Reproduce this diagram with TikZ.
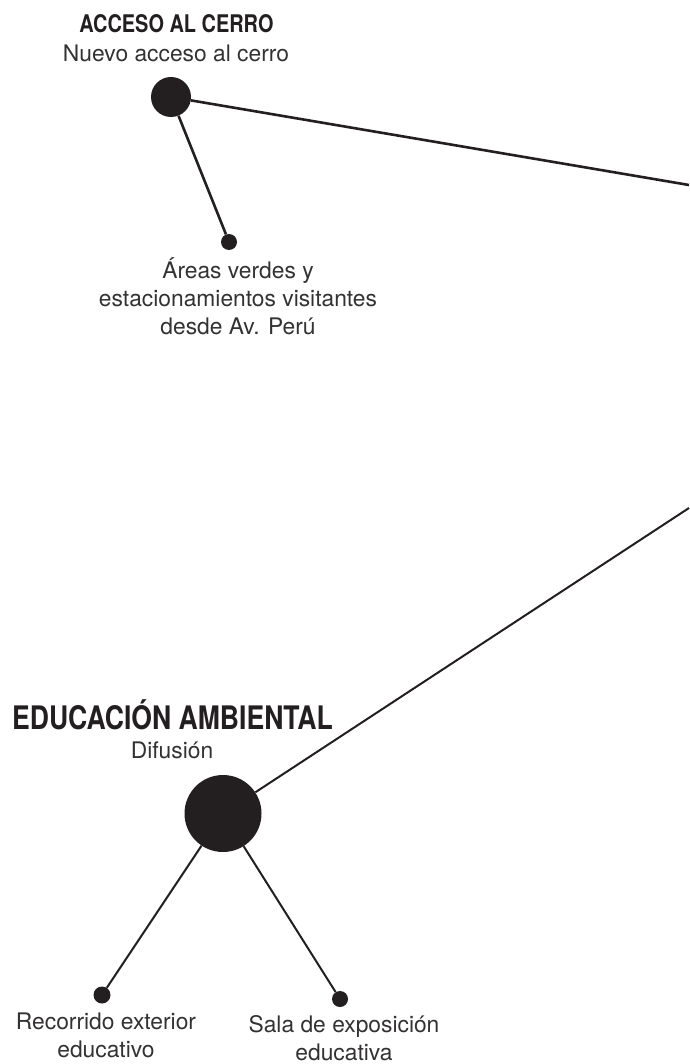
\documentclass[tikz,border=0pt]{standalone}
\usepackage{fontspec}
\setmainfont{TeX Gyre Heros}
\newfontfamily\headfont{TeX Gyre Heros}[FakeStretch=0.82]
\definecolor{ink}{HTML}{231F20}
\definecolor{txt}{HTML}{333132}
\begin{document}
\begin{tikzpicture}[x=1pt,y=-1pt,
  dot/.style={circle,fill=ink,draw=none,inner sep=0pt,minimum size=#1},
  thick link/.style={draw=ink,line width=2.6pt},
  thin link/.style={draw=ink,line width=2pt},
  head/.style={inner sep=0pt,anchor=base,text=ink,font=\headfont\bfseries\fontsize{#1}{#1}\selectfont},
  body/.style={inner sep=0pt,anchor=base,text=txt,align=center,font=\fontsize{22.8}{27.5}\selectfont}]
\useasboundingbox (0,0) rectangle (689,1064);

% nodes
\node[dot=40pt] (acc) at (171,97) {};
\node[dot=16pt] (areas) at (229,242) {};
\node[dot=77pt] (edu) at (223,813.5) {};
\node[dot=17pt] (rec) at (102,995) {};
\node[dot=16pt] (sala) at (340,999) {};

\coordinate (e1) at (689,185);
\coordinate (e2) at (689,508);

% connectors
\draw[thick link] (acc) -- (e1);
\draw[thick link] (acc) -- (areas);
\draw[thin link] (edu) -- (e2);
\draw[thin link] (edu) -- (rec);
\draw[thin link] (edu) -- (sala);

% texts (multi-line nodes: base = last line's baseline)
\node[head=24.3] (tacc) at (176.5,33) {ACCESO AL CERRO};
\node[body] (tacc2) at (176,62) {Nuevo acceso al cerro};
\node[body] (tareas) at (238,334) {Áreas verdes y\\estacionamientos visitantes\\desde Av. Perú};
\node[head=32.4] (tedu) at (172.5,729) {EDUCACIÓN AMBIENTAL};
\node[body] (tedu2) at (172,758) {Difusión};
\node[body] (trec) at (106,1057) {Recorrido exterior\\educativo};
\node[body] (tsala) at (344,1060) {Sala de exposición\\educativa};
\end{tikzpicture}
\end{document}
